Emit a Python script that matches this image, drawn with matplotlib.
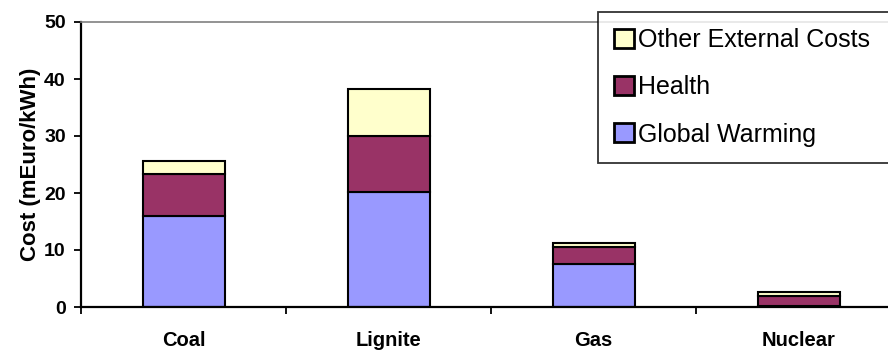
import numpy as np
import matplotlib
matplotlib.use("Agg")
import matplotlib.pyplot as plt

plt.rcParams['font.family'] = ['Liberation Sans', 'DejaVu Sans']

fuels = ["Coal", "Lignite", "Gas", "Nuclear"]
global_warming = [16.0, 20.1, 7.5, 0.2]
health = [7.3, 9.9, 3.1, 1.7]
other = [2.3, 8.2, 0.6, 0.7]

series = ["Global Warming", "Health", "Other External Costs"]
colors = ["#9999FF", "#993366", "#FFFFCC"]

fig = plt.figure(figsize=(8.88, 3.51), dpi=100)
ax = fig.add_axes([81/888, 1-307/351, 820/888, 285/351])

x = np.arange(len(fuels))
bottom = np.zeros(len(fuels))
bars = []
for vals, name, c in zip([global_warming, health, other], series, colors):
    b = ax.bar(x, vals, width=0.4, bottom=bottom, color=c, edgecolor="black",
               linewidth=1.5, label=name)
    bars.append(b)
    bottom += np.array(vals)

ax.set_xlim(-0.5, 3.5)
ax.set_ylim(0, 50)
ax.set_yticks(range(0, 51, 10))
ax.set_xticks(x)
ax.set_xticklabels(fuels, fontweight="bold", fontsize=14.5)
ax.set_xticks(np.arange(-0.5, 3.6, 1), minor=True)
ax.tick_params(axis="x", which="major", length=0, pad=17)
ax.tick_params(axis="x", which="minor", length=5, width=1.3, direction="out")
ax.tick_params(axis="y", length=5, width=1.3, direction="out", labelsize=14, pad=6)
for t in ax.get_yticklabels():
    t.set_fontweight("bold")

ax.set_ylabel("Cost (mEuro/kWh)", fontweight="bold", fontsize=16, labelpad=2)

ax.spines["left"].set_linewidth(1.6)
ax.spines["bottom"].set_linewidth(1.6)
ax.spines["top"].set_color("#808080")
ax.spines["top"].set_linewidth(1.2)
ax.spines["right"].set_visible(False)

# legend box runs off the right edge of the figure
handles = bars[::-1]
labels = series[::-1]
leg = fig.legend(handles, labels, loc="upper left", mode="expand",
                 bbox_to_anchor=(598/888, 1-162/351, 320/888, 150/351),
                 borderaxespad=0, fontsize=18, frameon=True, fancybox=False,
                 edgecolor="black", handlelength=0.8, handleheight=0.8,
                 handletextpad=0.16, labelspacing=0.93, borderpad=0.64)
leg.get_frame().set_linewidth(1.3)
for h in leg.legend_handles:
    h.set_linewidth(2)

fig.savefig("out.png", dpi=100)
